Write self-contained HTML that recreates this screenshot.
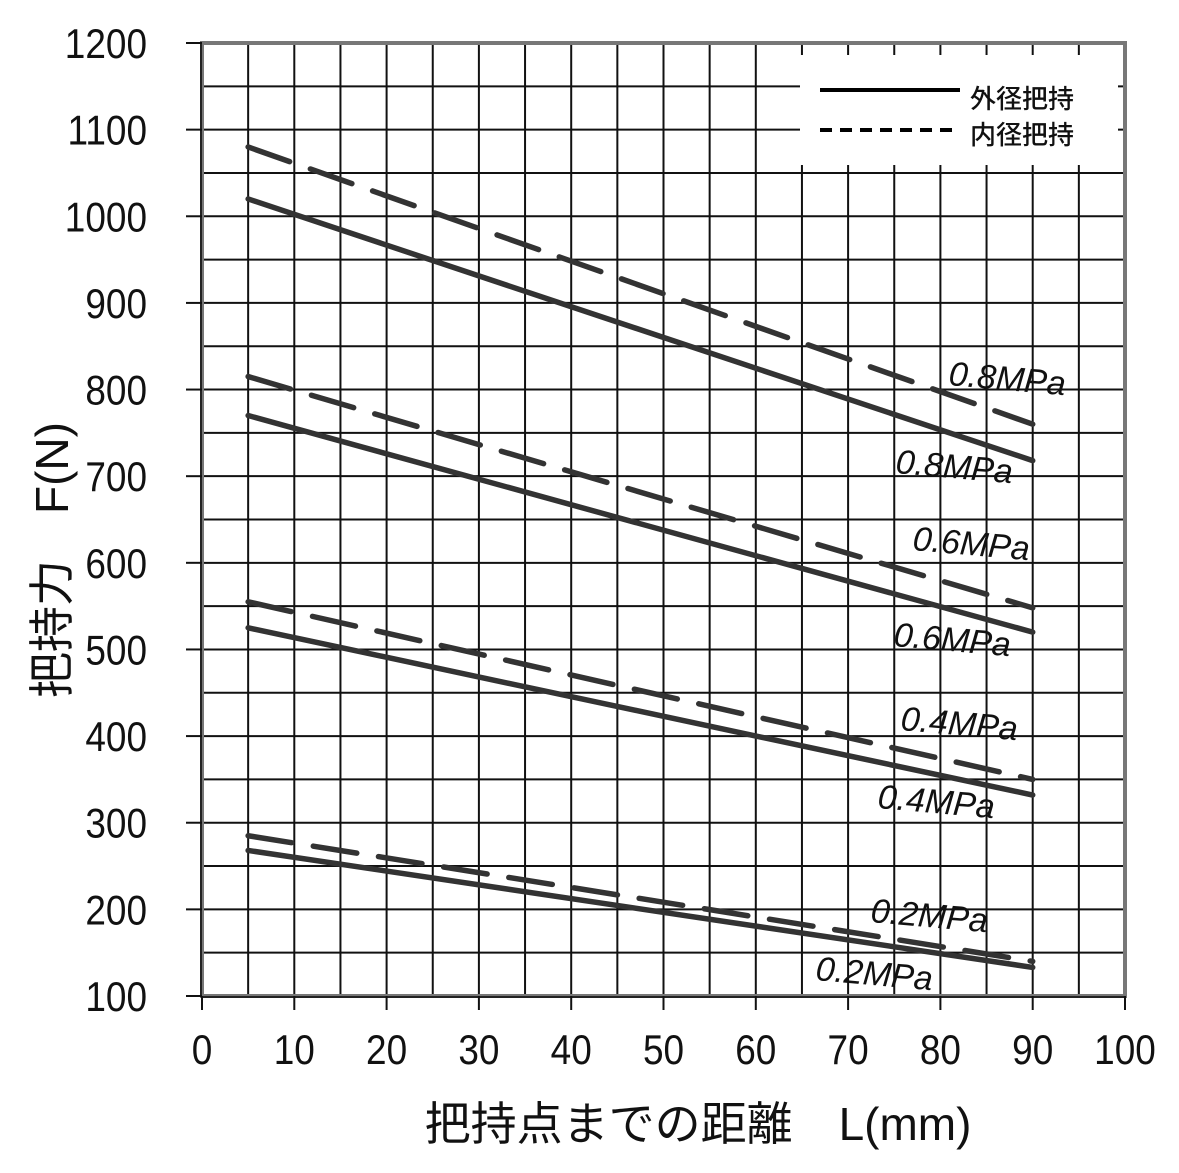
<!DOCTYPE html>
<html><head><meta charset="utf-8"><style>
html,body{margin:0;padding:0;background:#fff;}
svg{display:block;}
text{font-family:"Liberation Sans","Noto Sans CJK JP",sans-serif;}
</style></head><body>
<svg id="chart" width="1179" height="1173" viewBox="0 0 1179 1173"></svg>
<script>
const xTicks=[0,10,20,30,40,50,60,70,80,90,100];
const yTicks=[100,200,300,400,500,600,700,800,900,1000,1100,1200];
const xs=[5,90];
const outer08=[1020,718], inner08=[1080,760];
const outer06=[770,520], inner06=[815,548];
const outer04=[525,332], inner04=[555,350];
const outer02=[268,133], inner02=[285,140];
const seriesNames=['outer-0.8','inner-0.8','outer-0.6','inner-0.6','outer-0.4','inner-0.4','outer-0.2','inner-0.2'];
const seriesVals=[outer08,inner08,outer06,inner06,outer04,inner04,outer02,inner02];
</script>
<script>
const NS='http://www.w3.org/2000/svg';
const svg=document.getElementById('chart');
const X0=202,X1=1125,Y0=996,Y1=43;
const sx=v=>X0+(v-0)/(100-0)*(X1-X0);
const sy=v=>Y0-(v-100)/(1200-100)*(Y0-Y1);
function el(t,a,p){const e=document.createElementNS(NS,t);for(const k in a)e.setAttribute(k,a[k]);(p||svg).appendChild(e);return e;}
for(let v=0;v<=100;v+=5){const g=el('line',{x1:sx(v),x2:sx(v),y1:Y1,y2:Y0,stroke:'#111','stroke-width':2});

}
for(let v=100;v<=1200;v+=50){const g=el('line',{x1:X0,x2:X1,y1:sy(v),y2:sy(v),stroke:'#111','stroke-width':2});

}
const lg=el('g',{});


el('rect',{x:800,y:55,width:318,height:110,fill:'#fff'},lg);
el('line',{x1:820,x2:960,y1:90,y2:90,stroke:'#000','stroke-width':4},lg);
el('line',{x1:820,x2:960,y1:130,y2:130,stroke:'#000','stroke-width':4,'stroke-dasharray':'12 8'},lg);
const t1=el('text',{x:970,y:108,'font-size':26,'font-weight':500,fill:'#111'},lg);t1.textContent='外径把持';


const t2=el('text',{x:970,y:144,'font-size':26,'font-weight':500,fill:'#111'},lg);t2.textContent='内径把持';


el('rect',{x:X0,y:Y1,width:X1-X0,height:Y0-Y1,fill:'none',stroke:'#777','stroke-width':4});
el('line',{x1:X0,x2:X1,y1:Y0+1,y2:Y0+1,stroke:'#222','stroke-width':2});
el('line',{x1:X0-1,x2:X0-1,y1:Y1,y2:Y0,stroke:'#222','stroke-width':2});
xTicks.forEach(v=>{el('line',{x1:sx(v),x2:sx(v),y1:Y0,y2:Y0+14,stroke:'#111','stroke-width':2});
const t=el('text',{x:0,y:0,'font-size':42,'text-anchor':'middle',fill:'#111',transform:`translate(${sx(v)},1064) scale(0.88,1)`});t.textContent=v;

});
yTicks.forEach(v=>{el('line',{x1:X0-16,x2:X0,y1:sy(v),y2:sy(v),stroke:'#111','stroke-width':2});
const t=el('text',{x:0,y:0,'font-size':42,'text-anchor':'end',fill:'#111',transform:`translate(147,${sy(v)+15}) scale(0.88,1)`});t.textContent=v;

});
seriesVals.forEach((vals,i)=>{const dashed=seriesNames[i].startsWith('inner');
const l=el('line',{x1:sx(xs[0]),y1:sy(vals[0]),x2:sx(xs[1]),y2:sy(vals[1]),stroke:'#333','stroke-width':5.5,'stroke-linecap':'round'});
if(dashed)l.setAttribute('stroke-dasharray','44 22');

});
const ann=[['0.8MPa',948,385],['0.8MPa',895,473],['0.6MPa',912,550],['0.6MPa',893,646],['0.4MPa',900,730],['0.4MPa',877,808],['0.2MPa',870,922],['0.2MPa',815,980]];
ann.forEach(a=>{const t=el('text',{x:a[1],y:a[2],'font-size':34,fill:'#111','font-style':'italic',transform:`rotate(5 ${a[1]} ${a[2]})`});t.textContent=a[0];

});
const xt=el('text',{x:698,y:1140,'font-size':46,'text-anchor':'middle',fill:'#111'});xt.textContent='把持点までの距離　L(mm)';


const yt=el('text',{x:0,y:0,'font-size':46,'text-anchor':'middle',fill:'#111',transform:'translate(68,560) rotate(-90)'});yt.textContent='把持力　F(N)';


</script>
</body></html>
